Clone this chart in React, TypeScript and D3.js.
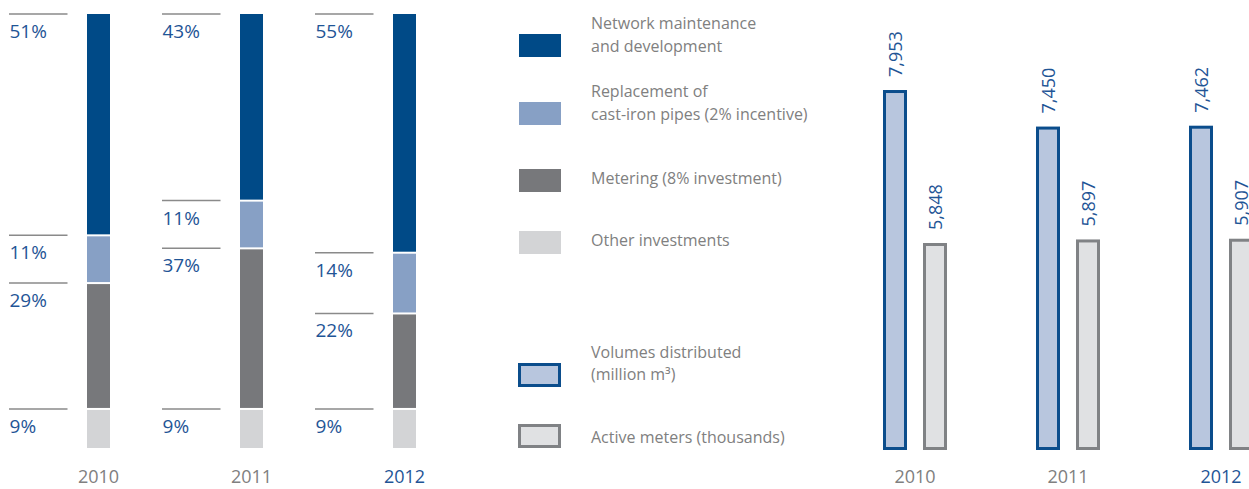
import React from 'react';
import * as d3 from 'd3';

// investment mix per year (percent)
const years = ['2010', '2011', '2012'];
const networkShare = [51, 43, 55];
const castIronShare = [11, 11, 14];
const meteringShare = [29, 37, 22];
const otherShare = [9, 9, 9];

// volumes distributed (million m3) and active meters (thousands)
const volumes = [7953, 7450, 7462];
const activeMeters = [5848, 5897, 5907];

const mixKeys = ['other', 'metering', 'castIron', 'network'];
const mixColors: Record<string, string> = {
    network: '#004a87',
    castIron: '#87a0c5',
    metering: '#77787b',
    other: '#d3d4d6'
};
const legendItems = [
    { key: 'network', lines: ['Network maintenance', 'and development'] },
    { key: 'castIron', lines: ['Replacement of', 'cast-iron pipes (2% incentive)'] },
    { key: 'metering', lines: ['Metering (8% investment)'] },
    { key: 'other', lines: ['Other investments'] }
];

const FONT = '"Open Sans", "Noto Sans", sans-serif';
const BLUE_TEXT = '#1f5596';
const GRAY_TEXT = '#808080';

export default function App() {
    const width = 1249;
    const height = 489;

    const rows = years.map((y, i) => ({
        year: y,
        network: networkShare[i],
        castIron: castIronShare[i],
        metering: meteringShare[i],
        other: otherShare[i]
    }));
    const stacked = d3.stack<any>().keys(mixKeys)(rows);

    const xLeft = d3.scalePoint<string>().domain(years).range([98.5, 404.5]);
    const yLeft = d3.scaleLinear().domain([0, 100]).range([448, 14]);
    const barW = 23;

    const xRight = d3.scalePoint<string>().domain(years).range([915, 1221]);
    const yRight = d3.scaleLinear().domain([3000, 8000]).range([450, 86.6]);
    const rBarW = 24;
    const sw = 3;

    const lastYear = years[years.length - 1];

    return (
        <svg width={width} height={height} style={{ position: 'absolute', left: 0, top: 0, fontFamily: FONT }}>
            {/* stacked percentage bars */}
            {stacked.map(layer => (
                <g key={layer.key}>
                    {layer.map((d, i) => {
                        const cx = xLeft(years[i]) as number;
                        const top = yLeft(d[1]);
                        const bottom = yLeft(d[0]);
                        const y0 = d[1] >= 100 ? top : top + 1;
                        const y1 = d[0] <= 0 ? bottom : bottom - 1;
                        return (
                            <g key={i}>
                                <rect x={cx - barW / 2} y={y0} width={barW} height={y1 - y0}
                                    fill={mixColors[layer.key as string]} />
                                <line x1={cx - 89.5} x2={cx - 31} y1={top} y2={top}
                                    stroke="#8a8a8a" strokeWidth={1.5} />
                                <text x={cx - 89} y={top + 24} fill={BLUE_TEXT} fontSize={19}>
                                    {Math.round(d[1] - d[0])}%
                                </text>
                            </g>
                        );
                    })}
                </g>
            ))}
            {years.map(y => (
                <text key={y} x={xLeft(y)} y={483} textAnchor="middle" fontSize={18}
                    fill={y === lastYear ? BLUE_TEXT : GRAY_TEXT}>{y}</text>
            ))}

            {/* legend */}
            {legendItems.map((item, i) => {
                const sy = [34, 102, 169, 231][i];
                const baselines = item.lines.length === 2 ? [sy - 5, sy + 18] : [sy + 15];
                return (
                    <g key={item.key}>
                        <rect x={519} y={sy} width={42} height={23} fill={mixColors[item.key]} />
                        {item.lines.map((l, j) => (
                            <text key={j} x={591} y={baselines[j]} fontSize={16} fill={GRAY_TEXT}>{l}</text>
                        ))}
                    </g>
                );
            })}
            <g>
                <rect x={519.5} y={364.5} width={40} height={21} fill="#b8c6de" stroke="#0b4d8c" strokeWidth={sw} />
                <text x={591} y={358} fontSize={16} fill={GRAY_TEXT}>Volumes distributed</text>
                <text x={591} y={380} fontSize={16} fill={GRAY_TEXT}>(million m³)</text>
                <rect x={519.5} y={425.5} width={40} height={21} fill="#e0e1e3" stroke="#808285" strokeWidth={sw} />
                <text x={591} y={443} fontSize={16} fill={GRAY_TEXT}>Active meters (thousands)</text>
            </g>

            {/* volumes and meters bars */}
            {years.map((y, i) => {
                const gc = xRight(y) as number;
                const bars = [
                    { cx: gc - 20, v: volumes[i], fill: '#b8c6de', stroke: '#0b4d8c' },
                    { cx: gc + 20, v: activeMeters[i], fill: '#e0e1e3', stroke: '#808285' }
                ];
                return (
                    <g key={y}>
                        {bars.map((b, j) => {
                            const top = yRight(b.v);
                            const bottom = yRight(3000);
                            return (
                                <g key={j}>
                                    <rect x={b.cx - rBarW / 2 + sw / 2} y={top + sw / 2}
                                        width={rBarW - sw} height={bottom - top - sw}
                                        fill={b.fill} stroke={b.stroke} strokeWidth={sw} />
                                    <text transform={`translate(${b.cx + 7},${top - 13}) rotate(-90)`}
                                        fontSize={18} fill={BLUE_TEXT}>{d3.format(',')(b.v)}</text>
                                </g>
                            );
                        })}
                        <text x={gc} y={483} textAnchor="middle" fontSize={18}
                            fill={y === lastYear ? BLUE_TEXT : GRAY_TEXT}>{y}</text>
                    </g>
                );
            })}
        </svg>
    );
}
